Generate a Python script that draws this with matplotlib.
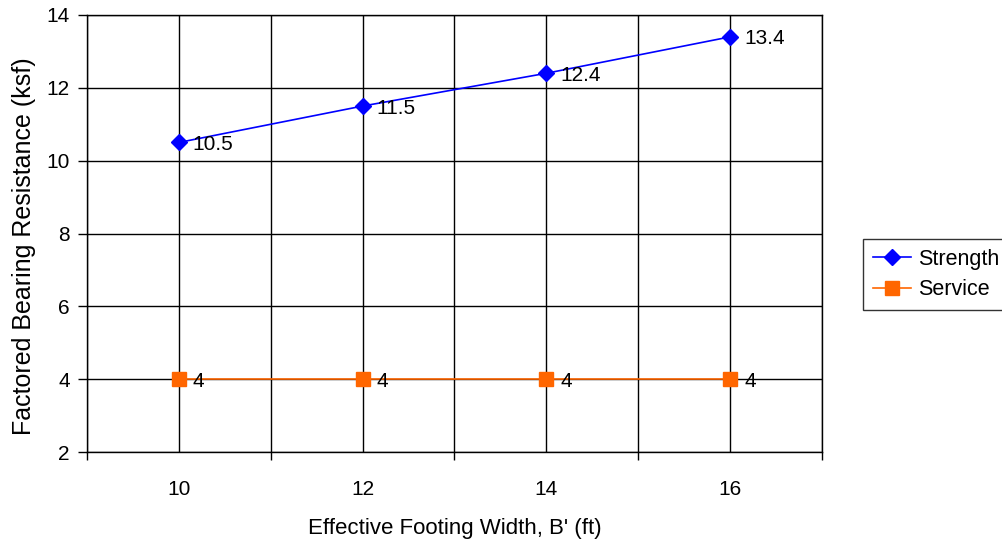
import numpy as np
import matplotlib.pyplot as plt

plt.rcParams['font.family'] = ['Liberation Sans', 'DejaVu Sans']

widths = [10, 12, 14, 16]
strength = [10.5, 11.5, 12.4, 13.4]
service = [4, 4, 4, 4]
yticks = [2, 4, 6, 8, 10, 12, 14]

fig = plt.figure(figsize=(10.02, 5.48), dpi=100)
ax = fig.add_axes([87/1002, 1-452/548, (822-87)/1002, (452-15)/548])

l1, = ax.plot(widths, strength, color='#0000FF', lw=1.2, marker='D', ms=8, label='Strength', zorder=3)
l2, = ax.plot(widths, service, color='#FF6600', lw=1.2, marker='s', ms=9.5, label='Service', zorder=3)

for x, y in zip(widths, strength):
    ax.annotate('%g' % y, (x, y), xytext=(10, -1.5), textcoords='offset points',
                ha='left', va='center', fontsize=15)
for x, y in zip(widths, service):
    ax.annotate('%g' % y, (x, y), xytext=(10, -1.5), textcoords='offset points',
                ha='left', va='center', fontsize=15)

ax.set_xlim(9, 17)
ax.set_ylim(2, 14)
# vertical grid every 1 ft, tick marks on odd values, labels on the categories
for gx in range(9, 18):
    ax.axvline(gx, color='black', lw=1, zorder=1)
for gy in yticks:
    ax.axhline(gy, color='black', lw=1, zorder=1)
ax.set_xticks([9, 11, 13, 15, 17])
ax.set_xticklabels([])
ax.set_xticks(widths, minor=True)
ax.set_xticklabels([str(w) for w in widths], minor=True, fontsize=15)
ax.tick_params(axis='x', which='major', direction='out', length=6, width=1)
ax.tick_params(axis='x', which='minor', length=0, pad=20)
ax.set_yticks(yticks)
ax.set_yticklabels([str(v) for v in yticks], fontsize=15)
ax.tick_params(axis='y', direction='out', length=6.5, width=1, pad=6)
for s in ax.spines.values():
    s.set_color('black')
    s.set_linewidth(1)

ax.set_xlabel("Effective Footing Width, B' (ft)", fontsize=16, labelpad=14)
ax.set_ylabel('Factored Bearing Resistance (ksf)', fontsize=18)
ax.yaxis.set_label_coords(-0.069, 0.47)

leg = fig.legend(handles=[l1, l2], loc='upper left', bbox_to_anchor=(863/1002, 1-239/548),
                 fontsize=15.5, frameon=True, fancybox=False, edgecolor='black',
                 handlelength=1.8, handletextpad=0.3, borderpad=0.45, labelspacing=0.45,
                 borderaxespad=0)
leg.get_frame().set_linewidth(1)

fig.savefig('out.png', dpi=100)
